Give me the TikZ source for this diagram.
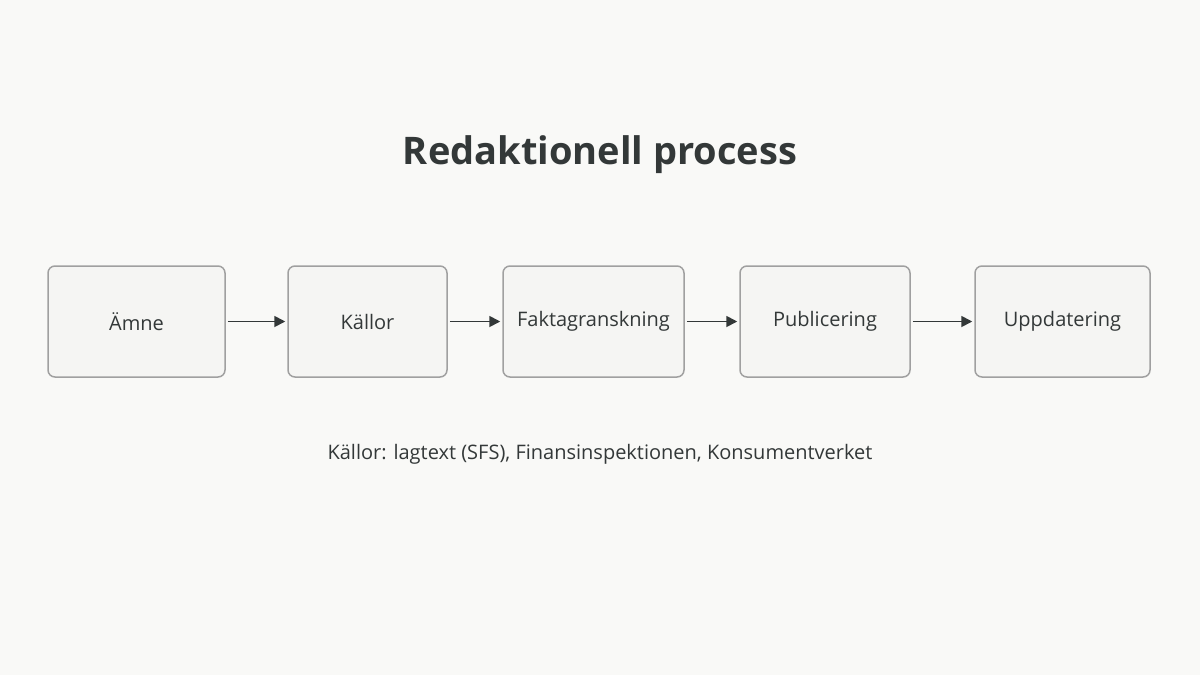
\documentclass[tikz,border=0pt]{standalone}
\usepackage{fontspec}
\setmainfont{Open Sans}
\usetikzlibrary{arrows.meta}
\definecolor{bg}{HTML}{F9F9F7}
\definecolor{boxfill}{HTML}{F5F5F3}
\definecolor{boxdraw}{HTML}{A0A0A0}
\definecolor{txt}{HTML}{333838}
\begin{document}
\begin{tikzpicture}[x=1pt,y=-1pt,
  box/.style={draw=boxdraw,fill=boxfill,line width=1.5pt,rounded corners=7pt,minimum height=111pt,inner sep=0pt,font=\fontsize{20}{24}\selectfont,text=txt},
  arr/.style={-{Triangle[length=11pt,width=11pt]},line width=1.8pt,draw=txt,shorten >=2pt,shorten <=2pt}]
\fill[bg] (0,0) rectangle (1200,675);
\useasboundingbox (0,0) rectangle (1200,675);
\node[text=txt,font=\fontsize{38}{44}\selectfont\bfseries] (title) at (600,155) {Redaktionell process};
\node[box,minimum width=177pt] (a) at (136.5,321.5) {Ämne};
\node[box,minimum width=159pt] (b) at (367.5,321.5) {Källor};
\node[box,minimum width=181pt] (c) at (593.5,321.5) {Faktagranskning};
\node[box,minimum width=170pt] (d) at (825,321.5) {Publicering};
\node[box,minimum width=175pt] (e) at (1062.5,321.5) {Uppdatering};
\draw[arr] (a) -- (b);
\draw[arr] (b) -- (c);
\draw[arr] (c) -- (d);
\draw[arr] (d) -- (e);
\node[text=txt,font=\fontsize{20}{24}\selectfont] (cap) at (600,454) {Källor: lagtext (SFS), Finansinspektionen, Konsumentverket};
\end{tikzpicture}
\end{document}
